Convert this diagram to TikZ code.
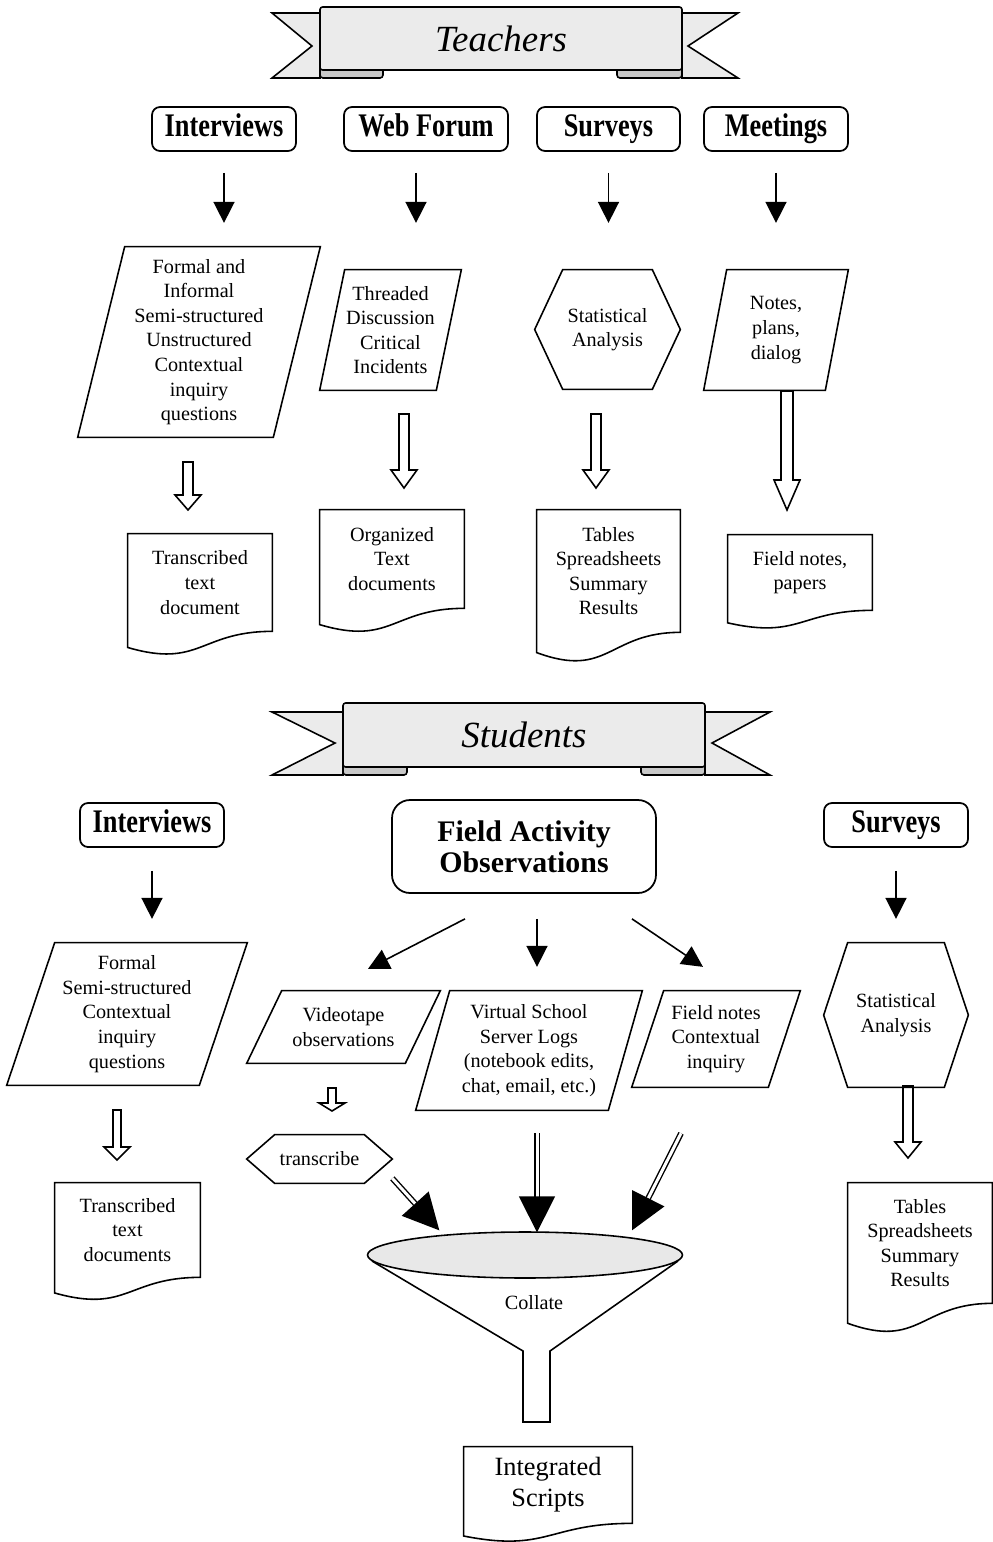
\documentclass[tikz,border=0pt]{standalone}
\usepackage{fontspec}
\setmainfont{Liberation Serif}
\usepackage{graphicx}
\usepackage{xcolor}
\usetikzlibrary{arrows.meta, calc, shapes.geometric, positioning}

\definecolor{ribbongray}{HTML}{EBEBEB}
\definecolor{foldgray}{HTML}{C8C8C8}
\definecolor{funnelgray}{HTML}{E8E8E8}

\newcommand{\bodyfont}{\fontsize{11.5}{14}\selectfont}
\newcommand{\hdrtext}[1]{\raisebox{-0.07cm}{\scalebox{1}[1.25]{\fontsize{15}{18}\selectfont\bfseries\vphantom{Ig}#1}}}

% outlines drawn round plain (invisible) nodes
\newcommand{\parashape}[2]{\draw[shapeline] ([xshift=#2]#1.north west) -- (#1.north east) -- ([xshift=-#2]#1.south east) -- (#1.south west) -- cycle;}
\newcommand{\hexshape}[2]{\draw[shapeline] (#1.west) -- ([xshift=#2]#1.north west) -- ([xshift=-#2]#1.north east) -- (#1.east) -- ([xshift=-#2]#1.south east) -- ([xshift=#2]#1.south west) -- cycle;}
\newcommand{\docshape}[1]{\draw[shapeline] (#1.north west) -- (#1.north east) -- (#1.south east) .. controls (#1.south) and ($(#1.south)!-0.382!(#1.north)$) .. ($(#1.south west)!-0.165!(#1.north west)$) -- cycle;}
\newcommand{\blockdown}[5]{\draw[hollow] (#1-#5,#2) -- (#1+#5,#2) -- (#1+#5,#3-#4) -- (#1+13,#3-#4) -- (#1,#3) -- (#1-13,#3-#4) -- (#1-#5,#3-#4) -- cycle;}

\tikzset{
  shapeline/.style={line width=0.9pt},
  hollow/.style={line width=0.9pt, fill=white},
  hdr/.style={draw, line width=1pt, rounded corners=0.16cm, minimum width=2.88cm, minimum height=0.88cm, inner sep=0pt},
  blank/.style={inner sep=0pt, align=center, font=\bodyfont},
  ribbon/.style={draw, line width=0.9pt, fill=ribbongray, rounded corners=0.05cm, minimum width=7.24cm, minimum height=1.26cm, font=\fontsize{21}{24}\selectfont\itshape},
  thinarr/.style={line width=0.9pt, -{Triangle[length=0.42cm, width=0.42cm]}},
  bigarr/.style={line width=0.8pt, double, double distance=0.06cm, -{Triangle[length=0.72cm, width=0.72cm]}},
}

\begin{document}
\begin{tikzpicture}[x=0.02cm, y=-0.02cm]
\useasboundingbox (0,0) rectangle (993,1542);

% Teachers ribbon
\draw[shapeline, fill=ribbongray] (272,13) -- (320,13) -- (320,78) -- (272,78) -- (312,46) -- cycle;
\draw[shapeline, fill=ribbongray] (682,13) -- (738,13) -- (688,46) -- (738,78) -- (682,78) -- cycle;
\draw[shapeline, fill=foldgray, rounded corners=0.06cm] (320,64) rectangle (383,78);
\draw[shapeline, fill=foldgray, rounded corners=0.06cm] (617,64) rectangle (682,78);
\node[ribbon] (tribbon) at (501,38.5) {Teachers};

\node[hdr] (thdr1) at (224,129) {\hdrtext{Interviews}};
\node[hdr, minimum width=3.28cm] (thdr2) at (426,129) {\hdrtext{Web Forum}};
\node[hdr, minimum width=2.86cm] (thdr3) at (608.5,129) {\hdrtext{Surveys}};
\node[hdr] (thdr4) at (776,129) {\hdrtext{Meetings}};

\node[blank, minimum width=4.84cm, minimum height=3.8cm] (tpar1) at (199,342) {Formal and\\Informal\\Semi-structured\\Unstructured\\Contextual\\inquiry\\questions};
\node[blank, minimum width=2.82cm, minimum height=2.4cm] (tpar2) at (390.5,330) {Threaded\\Discussion\\Critical\\Incidents};
\node[blank, minimum width=2.9cm, minimum height=2.38cm] (thex) at (607.5,329.5) {Statistical\\Analysis};
\node[blank, minimum width=2.88cm, minimum height=2.4cm] (tpar4) at (776,330) {Notes,\\plans,\\dialog};

\node[blank, minimum width=2.88cm, minimum height=1.94cm] (tdoc1) at (200,582.5) {Transcribed\\text\\document};
\node[blank, minimum width=2.88cm, minimum height=1.96cm] (tdoc2) at (392,559) {Organized\\Text\\documents};
\node[blank, minimum width=2.86cm, minimum height=2.44cm] (tdoc3) at (608.5,571) {Tables\\Spreadsheets\\Summary\\Results};
\node[blank, minimum width=2.88cm, minimum height=1.5cm] (tdoc4) at (800,572.5) {Field notes,\\papers};

\draw[thinarr] ([yshift=-0.42cm]thdr1.south) -- ++(0,50);
\draw[thinarr] ([xshift=-0.2cm, yshift=-0.42cm]thdr2.south) -- ++(0,50);
\draw[thinarr] ([yshift=-0.42cm]thdr3.south) -- ++(0,50);
\draw[thinarr] ([yshift=-0.42cm]thdr4.south) -- ++(0,50);

\blockdown{188}{462}{510}{15}{5}
\blockdown{404}{414}{488}{18}{5}
\blockdown{596}{414}{488}{18}{5}
\blockdown{787}{391}{510}{30}{6}

% Students ribbon
\draw[shapeline, fill=ribbongray] (272,712) -- (343,712) -- (343,775) -- (272,775) -- (335,743) -- cycle;
\draw[shapeline, fill=ribbongray] (705,712) -- (770,712) -- (712,743) -- (770,775) -- (705,775) -- cycle;
\draw[shapeline, fill=foldgray, rounded corners=0.06cm] (343,763) rectangle (407,775);
\draw[shapeline, fill=foldgray, rounded corners=0.06cm] (641,763) rectangle (705,775);
\node[ribbon, minimum height=1.28cm] (sribbon) at (524,735) {Students};

\node[hdr] (shdr1) at (152,825) {\hdrtext{Interviews}};
\node[hdr, minimum width=5.28cm, minimum height=1.86cm, rounded corners=0.36cm, align=center,
      font=\fontsize{17}{17.6}\selectfont\bfseries] (sfa) at (524,846.5) {Field Activity\\Observations};
\node[hdr] (shdr3) at (896,825) {\hdrtext{Surveys}};

\node[blank, minimum width=4.8cm, minimum height=2.84cm] (spar1) at (127,1014) {Formal\\Semi-structured\\Contextual\\inquiry\\questions};
\node[blank, minimum width=3.86cm, minimum height=1.44cm] (svid) at (343.5,1027) {Videotape\\observations};
\node[blank, minimum width=4.52cm, minimum height=2.38cm] (svs) at (529,1050.5) {Virtual School\\Server Logs\\(notebook edits,\\chat, email, etc.)};
\node[blank, minimum width=3.36cm, minimum height=1.92cm] (sfn) at (716,1039) {Field notes\\Contextual\\inquiry};
\node[blank, minimum width=2.88cm, minimum height=2.88cm] (shex) at (896,1015) {Statistical\\Analysis};
\node[blank, minimum width=2.9cm, minimum height=0.96cm] (strans) at (319.5,1159) {transcribe};

\node[blank, minimum width=2.9cm, minimum height=1.88cm] (sdoc1) at (127.5,1230) {Transcribed\\text\\documents};
\node[blank, minimum width=2.88cm, minimum height=2.4cm] (sdoc2) at (920,1243) {Tables\\Spreadsheets\\Summary\\Results};
\node[blank, minimum width=3.36cm, minimum height=1.52cm, font=\fontsize{15}{17.6}\selectfont] (sdoc3) at (548,1485) {Integrated\\Scripts};

\draw[thinarr] ([yshift=-0.46cm]shdr1.south) -- ++(0,48);
\draw[thinarr] ([yshift=-0.46cm]shdr3.south) -- ++(0,48);
\draw[thinarr] ([xshift=-1.18cm, yshift=-0.5cm]sfa.south) -- ++(-97,50);
\draw[thinarr] ([xshift=0.26cm, yshift=-0.5cm]sfa.south) -- ++(0,48);
\draw[thinarr] ([xshift=2.16cm, yshift=-0.5cm]sfa.south) -- ++(71,48);

\blockdown{117}{1110}{1160}{13}{4}
\blockdown{332}{1088}{1111}{8}{4}
\blockdown{908}{1086}{1158}{16}{5}

% funnel
\draw[shapeline, fill=white] (372,1261) -- (523,1351) -- (523,1422) -- (550,1422) -- (550,1351) -- (678,1261);
\node[draw, ellipse, line width=0.9pt, fill=funnelgray, minimum width=6.3cm, minimum height=0.92cm] (funnel) at (525,1255) {};
\node[blank] (collate) at (534,1303) {Collate};

\draw[bigarr] ([yshift=0.1cm]strans.south east) -- ++(47,52);
\draw[bigarr] ([xshift=0.16cm, yshift=-0.46cm]svs.south) -- ++(0,99);
\draw[bigarr] ([xshift=-0.7cm, yshift=-0.92cm]sfn.south) -- ++(-49,97);

\foreach \n/\s in {tpar1/0.94cm, tpar2/0.5cm, tpar4/0.46cm, spar1/0.96cm, svid/0.7cm, svs/0.68cm, sfn/0.64cm}
  {\parashape{\n}{\s}}
\foreach \n/\s in {thex/0.56cm, shex/0.48cm, strans/0.56cm}
  {\hexshape{\n}{\s}}
\foreach \n in {tdoc1, tdoc2, tdoc3, tdoc4, sdoc1, sdoc2, sdoc3}
  {\docshape{\n}}
\end{tikzpicture}
\end{document}
